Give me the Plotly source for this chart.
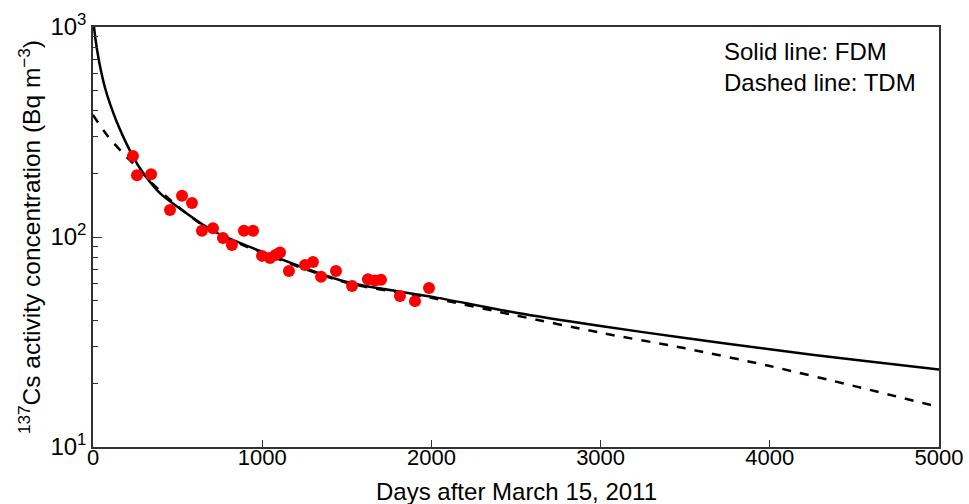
import plotly.graph_objects as go

# Observed data (days after March 15, 2011, Bq m^-3)
obs_days = [236, 260, 343, 455, 526, 585, 644, 709, 768, 821, 892, 946, 999, 1046,
            1078, 1105, 1158, 1253, 1300, 1348, 1436, 1531, 1625, 1667, 1702, 1814,
            1903, 1986]
obs_vals = [243, 197, 199, 134.5, 157, 145, 107, 110, 98.9, 91.6, 107, 107, 81.3, 79.4,
            82, 84.4, 68.9, 73.6, 76, 64.6, 68.9, 58.5, 63, 62, 62.6, 52.4,
            49.5, 57.2]

# FDM curve (solid)
fdm_days = [6, 15.4, 27.2, 46.1, 69.7, 98.7, 135.9, 179.7, 225.8, 276.6, 336.9, 402,
            485, 700, 1000, 1500, 2000, 2500, 3000, 3500, 4000, 4500, 5000]
fdm_vals = [1000, 867, 752, 624, 518, 435, 361, 299, 251, 213, 183, 160,
            142, 108, 85, 61, 52, 43.6, 37.7, 33.0, 29.2, 26.0, 23.4]

# TDM curve (dashed)
tdm_days = [0, 89, 177, 266, 350, 500, 700, 1000, 1500, 2000, 2500, 3000, 3500, 4000,
            4500, 5000]
tdm_vals = [381, 301, 251, 212, 180, 140, 107, 84, 60.5, 51.3, 42.3, 35, 29.5, 24.3,
            19.5, 15.5]

x_ticks = [0, 1000, 2000, 3000, 4000, 5000]
y_ticks = [10, 100, 1000]
y_ticktext = ["10<sup>1</sup>", "10<sup>2</sup>", "10<sup>3</sup>"]

fig = go.Figure()
fig.add_trace(go.Scatter(x=fdm_days, y=fdm_vals, mode="lines",
                         line=dict(color="black", width=2.5, shape="spline", smoothing=0.8),
                         showlegend=False, hoverinfo="skip"))
fig.add_trace(go.Scatter(x=tdm_days, y=tdm_vals, mode="lines",
                         line=dict(color="black", width=2.5, dash="dash", shape="spline",
                                   smoothing=0.8),
                         showlegend=False, hoverinfo="skip"))
fig.add_trace(go.Scatter(x=obs_days, y=obs_vals, mode="markers",
                         marker=dict(color="#ff0000", size=12, line=dict(width=0)),
                         showlegend=False))

fig.add_annotation(xref="paper", yref="paper", x=0.7435, y=0.978, xanchor="left",
                   yanchor="top", align="left", showarrow=False,
                   text="Solid line: FDM<br>Dashed line: TDM",
                   font=dict(family="Liberation Sans, Arial", size=24, color="black"))

# x-axis title placed as annotation so the plot area stays fixed
fig.add_annotation(xref="paper", yref="paper", x=0.5, y=-0.105, xanchor="center",
                   yanchor="middle", showarrow=False,
                   text="Days after March 15, 2011",
                   font=dict(family="Liberation Sans, Arial", size=24, color="black"))

fig.update_layout(
    width=969, height=504,
    margin=dict(l=93, r=30, t=27, b=57),
    paper_bgcolor="white", plot_bgcolor="white",
    font=dict(family="Liberation Sans, Arial", size=22, color="black"),
    xaxis=dict(range=[0, 5000], tickvals=x_ticks, ticks="inside", ticklen=7,
               tickwidth=1.2, tickcolor="#333", showline=True, linecolor="#333",
               linewidth=1.5, mirror=True, showgrid=False, zeroline=False,
               automargin=False, ticklabelstandoff=-10,
               tickfont=dict(family="Liberation Sans, Arial", size=22)),
    yaxis=dict(type="log", range=[1, 3], tickvals=y_ticks, ticktext=y_ticktext,
               ticks="inside", ticklen=9, tickwidth=1.2, tickcolor="#333",
               showline=True, linecolor="#333", linewidth=1.5, mirror=True,
               showgrid=False, zeroline=False, automargin=False,
               minor=dict(ticks="inside", ticklen=5, tickcolor="#333",
                          tickvals=[20, 30, 40, 50, 60, 70, 80, 90,
                                    200, 300, 400, 500, 600, 700, 800, 900]),
               tickfont=dict(size=24),
               title=dict(text="<sup>137</sup>Cs activity concentration (Bq m<sup>\u22123</sup>)",
                          standoff=3, font=dict(size=24.5))),
)

fig.write_html("out.html")
